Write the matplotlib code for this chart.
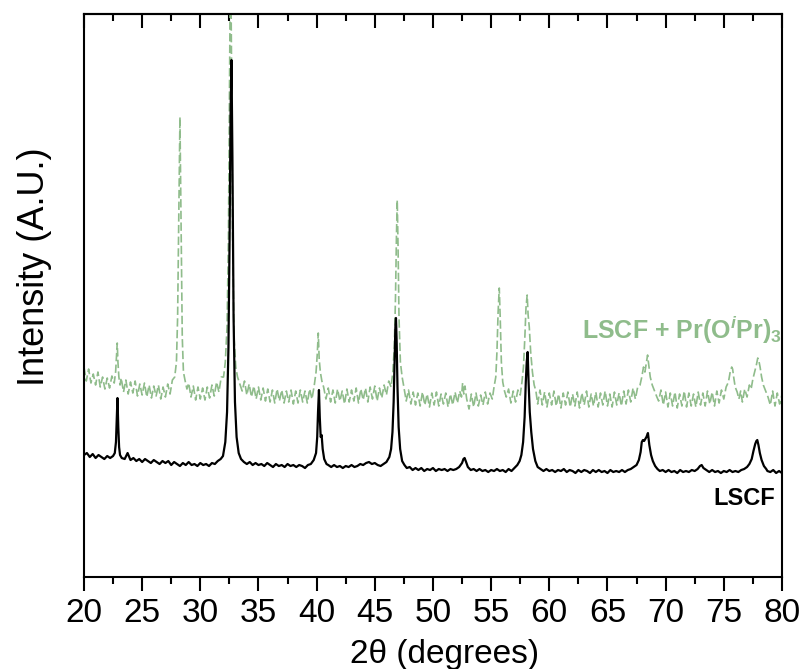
import numpy as np
import matplotlib.pyplot as plt

plt.rcParams['font.family'] = ['Liberation Sans', 'DejaVu Sans']
plt.rcParams['mathtext.fontset'] = 'custom'
plt.rcParams['mathtext.rm'] = 'Liberation Sans:bold'
plt.rcParams['mathtext.bf'] = 'Liberation Sans:bold'
plt.rcParams['mathtext.it'] = 'Liberation Sans:italic:bold'

# (2theta, intensity), arbitrary units
lscf = [
    (20.0, 122), (20.25, 124), (20.5, 120), (20.75, 123), (21.0, 119), (21.25, 122), (21.5, 120), (21.75, 118),
    (22.0, 121), (22.25, 119), (22.5, 121),
    (22.65, 124), (22.75, 135), (22.82, 160), (22.88, 179), (22.95, 150), (23.02, 130), (23.1, 122), (23.25, 119),
    (23.5, 118), (23.75, 124), (24.0, 117), (24.25, 119), (24.5, 116), (24.75, 118), (25.0, 115), (25.25, 118),
    (25.5, 116), (25.75, 114), (26.0, 117), (26.25, 115), (26.5, 113), (26.75, 116), (27.0, 114), (27.25, 116),
    (27.5, 112), (27.75, 115), (28.0, 113), (28.25, 111), (28.5, 114), (28.75, 112), (29.0, 115), (29.25, 112),
    (29.5, 113), (29.75, 111), (30.0, 114), (30.25, 112), (30.5, 113), (30.75, 111), (31.0, 114), (31.25, 113),
    (31.5, 116), (31.75, 118),
    (31.95, 121), (32.15, 135), (32.3, 165), (32.42, 230), (32.52, 340), (32.6, 460), (32.68, 517), (32.76, 420),
    (32.86, 260), (32.98, 175), (33.12, 140), (33.3, 124), (33.5, 118),
    (33.75, 115), (34.0, 113), (34.25, 115), (34.5, 112), (34.75, 114), (35.0, 112), (35.25, 113), (35.5, 111),
    (35.75, 114), (36.0, 112), (36.25, 110), (36.5, 113), (36.75, 111), (37.0, 112), (37.25, 110), (37.5, 113),
    (37.75, 111), (38.0, 112), (38.25, 110), (38.5, 112), (38.75, 111), (39.0, 109), (39.25, 112), (39.5, 113),
    (39.75, 117),
    (39.95, 124), (40.05, 140), (40.12, 165), (40.2, 187), (40.27, 160), (40.35, 140), (40.43, 142), (40.52, 128),
    (40.65, 118), (40.85, 113),
    (41.0, 112), (41.25, 110), (41.5, 112), (41.75, 110), (42.0, 111), (42.25, 109), (42.5, 111), (42.75, 110),
    (43.0, 112), (43.25, 110), (43.5, 111), (43.75, 113), (44.0, 112), (44.25, 114), (44.5, 115), (44.75, 113),
    (45.0, 114), (45.25, 112), (45.5, 111), (45.75, 113), (46.0, 115), (46.25, 120),
    (46.4, 128), (46.52, 145), (46.62, 175), (46.7, 215), (46.77, 250), (46.82, 259), (46.88, 235), (46.95, 190),
    (47.05, 150), (47.18, 128), (47.35, 116), (47.55, 112),
    (47.75, 109), (48.0, 110), (48.25, 107), (48.5, 109), (48.75, 107), (49.0, 109), (49.25, 106), (49.5, 108),
    (49.75, 107), (50.0, 109), (50.25, 106), (50.5, 108), (50.75, 107), (51.0, 108), (51.25, 106), (51.5, 108),
    (51.75, 107), (52.0, 108), (52.25, 110), (52.5, 114),
    (52.62, 118), (52.72, 119), (52.85, 115), (53.0, 110),
    (53.25, 107), (53.5, 108), (53.75, 106), (54.0, 108), (54.25, 106), (54.5, 107), (54.75, 105), (55.0, 107),
    (55.25, 106), (55.5, 108), (55.75, 106), (56.0, 107), (56.25, 105), (56.5, 108), (56.75, 106), (57.0, 109),
    (57.25, 112),
    (57.45, 116), (57.6, 122), (57.75, 135), (57.88, 160), (57.98, 195), (58.06, 215), (58.14, 225), (58.22, 195),
    (58.32, 165), (58.45, 145), (58.6, 128), (58.8, 116), (59.0, 110),
    (59.25, 108), (59.5, 106), (59.75, 108), (60.0, 106), (60.25, 107), (60.5, 105), (60.75, 107), (61.0, 106),
    (61.25, 108), (61.5, 105), (61.75, 107), (62.0, 106), (62.25, 104), (62.5, 107), (62.75, 105), (63.0, 107),
    (63.25, 106), (63.5, 104), (63.75, 107), (64.0, 105), (64.25, 107), (64.5, 105), (64.75, 106), (65.0, 104),
    (65.25, 107), (65.5, 105), (65.75, 106), (66.0, 105), (66.25, 107), (66.5, 105), (66.75, 107), (67.0, 108),
    (67.25, 110), (67.5, 112),
    (67.7, 117), (67.85, 125), (67.95, 135), (68.05, 137), (68.15, 136), (68.25, 138), (68.35, 140), (68.48, 144),
    (68.6, 132), (68.75, 122), (68.9, 116), (69.1, 111), (69.3, 108),
    (69.5, 106), (69.75, 107), (70.0, 105), (70.25, 107), (70.5, 105), (70.75, 106), (71.0, 104), (71.25, 107),
    (71.5, 105), (71.75, 106), (72.0, 105), (72.25, 107), (72.5, 106), (72.75, 108),
    (72.95, 111), (73.1, 112), (73.25, 109),
    (73.5, 107), (73.75, 105), (74.0, 107), (74.25, 105), (74.5, 106), (74.75, 104), (75.0, 106), (75.25, 105),
    (75.5, 107), (75.75, 105), (76.0, 106), (76.25, 105), (76.5, 107), (76.75, 108), (77.0, 110),
    (77.2, 113), (77.4, 118), (77.55, 126), (77.7, 133), (77.8, 136), (77.88, 137), (77.98, 132), (78.1, 124),
    (78.25, 117), (78.45, 111), (78.65, 108),
    (78.75, 106), (79.0, 105), (79.25, 107), (79.5, 104), (79.75, 106), (80.0, 104),
]

lscf_pr = [
    (20.0, 210), (20.2, 196), (20.4, 208), (20.6, 194), (20.8, 203), (21.0, 192), (21.2, 205), (21.4, 190),
    (21.6, 200), (21.8, 188), (22.0, 199), (22.2, 189), (22.4, 201), (22.6, 194),
    (22.72, 205), (22.8, 222), (22.86, 234), (22.92, 215), (23.0, 200), (23.1, 192),
    (23.2, 199), (23.4, 185), (23.6, 197), (23.8, 183), (24.0, 195), (24.2, 184), (24.4, 196), (24.6, 181),
    (24.8, 193), (25.0, 182), (25.2, 194), (25.4, 180), (25.6, 192), (25.8, 179), (26.0, 191), (26.2, 181),
    (26.4, 192), (26.6, 178), (26.8, 190), (27.0, 180), (27.2, 193), (27.4, 183), (27.6, 197),
    (27.8, 200), (27.95, 215), (28.05, 260), (28.15, 360), (28.25, 460), (28.35, 350), (28.45, 240), (28.55, 205),
    (28.7, 196), (28.85, 188),
    (29.0, 194), (29.2, 180), (29.4, 191), (29.6, 177), (29.8, 190), (30.0, 178), (30.2, 189), (30.4, 177),
    (30.6, 190), (30.8, 179), (31.0, 192), (31.2, 181), (31.4, 195), (31.6, 185), (31.8, 200),
    (32.0, 200), (32.15, 215), (32.3, 250), (32.42, 340), (32.52, 500), (32.6, 640), (32.68, 520), (32.78, 340),
    (32.9, 240), (33.05, 210), (33.2, 200), (33.4, 193),
    (33.6, 186), (33.8, 196), (34.0, 182), (34.2, 193), (34.4, 180), (34.6, 191), (34.8, 178), (35.0, 190),
    (35.2, 177), (35.4, 189), (35.6, 176), (35.8, 188), (36.0, 175), (36.2, 187), (36.4, 174), (36.6, 188),
    (36.8, 176), (37.0, 187), (37.2, 174), (37.4, 186), (37.6, 175), (37.8, 187), (38.0, 173), (38.2, 186),
    (38.4, 174), (38.6, 187), (38.8, 175), (39.0, 186), (39.2, 174), (39.4, 188), (39.6, 178), (39.8, 192),
    (39.95, 205), (40.05, 222), (40.14, 244), (40.22, 218), (40.32, 205), (40.45, 196), (40.6, 190),
    (40.8, 178), (41.0, 189), (41.2, 175), (41.4, 187), (41.6, 174), (41.8, 188), (42.0, 176), (42.2, 186),
    (42.4, 173), (42.6, 188), (42.8, 175), (43.0, 187), (43.2, 176), (43.4, 189), (43.6, 174), (43.8, 188),
    (44.0, 177), (44.2, 189), (44.4, 175), (44.6, 190), (44.8, 178), (45.0, 191), (45.2, 176), (45.4, 189),
    (45.6, 179), (45.8, 192), (46.0, 182), (46.2, 196), (46.4, 190),
    (46.55, 205), (46.68, 230), (46.78, 280), (46.86, 340), (46.93, 377), (47.0, 330), (47.08, 260), (47.2, 215),
    (47.35, 200), (47.5, 190),
    (47.7, 176), (47.9, 187), (48.1, 173), (48.3, 185), (48.5, 172), (48.7, 184), (48.9, 171), (49.1, 185),
    (49.3, 172), (49.5, 183), (49.7, 170), (49.9, 184), (50.1, 172), (50.3, 185), (50.5, 171), (50.7, 183),
    (50.9, 173), (51.1, 184), (51.3, 170), (51.5, 183), (51.7, 172), (51.9, 185), (52.1, 174), (52.3, 186),
    (52.45, 180), (52.55, 194), (52.65, 183), (52.75, 191), (52.9, 178),
    (53.1, 168), (53.3, 183), (53.5, 170), (53.7, 184), (53.9, 171), (54.1, 182), (54.3, 172), (54.5, 185),
    (54.7, 173), (54.9, 184), (55.1, 178), (55.25, 190),
    (55.4, 200), (55.5, 225), (55.6, 265), (55.7, 289), (55.78, 260), (55.88, 215), (56.0, 195), (56.15, 186),
    (56.3, 180), (56.5, 188), (56.7, 174), (56.9, 186), (57.1, 175), (57.3, 187), (57.5, 182),
    (57.65, 195), (57.78, 210), (57.9, 240), (58.0, 270), (58.1, 282), (58.18, 262), (58.28, 250), (58.4, 225),
    (58.55, 205), (58.7, 192), (58.85, 186),
    (59.0, 173), (59.2, 187), (59.4, 172), (59.6, 185), (59.8, 170), (60.0, 184), (60.2, 172), (60.4, 186),
    (60.6, 171), (60.8, 183), (61.0, 169), (61.2, 184), (61.4, 172), (61.6, 185), (61.8, 170), (62.0, 183),
    (62.2, 171), (62.4, 185), (62.6, 169), (62.8, 184), (63.0, 172), (63.2, 186), (63.4, 170), (63.6, 183),
    (63.8, 171), (64.0, 185), (64.2, 170), (64.4, 184), (64.6, 172), (64.8, 186), (65.0, 171), (65.2, 183),
    (65.4, 170), (65.6, 185), (65.8, 172), (66.0, 184), (66.2, 171), (66.4, 186), (66.6, 173), (66.8, 187),
    (67.0, 175), (67.2, 189), (67.4, 178), (67.6, 190),
    (67.8, 192), (67.95, 200), (68.1, 210), (68.22, 205), (68.35, 215), (68.45, 222), (68.55, 212), (68.68, 200),
    (68.85, 192), (69.05, 186), (69.25, 180),
    (69.4, 176), (69.6, 187), (69.8, 172), (70.0, 185), (70.2, 170), (70.4, 184), (70.6, 171), (70.8, 185),
    (71.0, 169), (71.2, 183), (71.4, 171), (71.6, 186), (71.8, 170), (72.0, 184), (72.2, 171), (72.4, 183),
    (72.6, 170), (72.8, 185), (73.0, 172), (73.2, 184), (73.4, 171), (73.6, 186), (73.8, 173), (74.0, 185),
    (74.2, 171), (74.4, 186), (74.6, 174), (74.8, 187), (75.0, 178), (75.2, 190),
    (75.4, 195), (75.55, 205), (75.68, 210), (75.76, 208), (75.85, 200), (75.98, 190), (76.15, 185), (76.3, 178),
    (76.45, 186), (76.6, 175), (76.8, 188), (77.0, 180), (77.2, 192), (77.35, 188),
    (77.5, 198), (77.65, 205), (77.8, 212), (77.92, 219), (78.02, 216), (78.12, 210), (78.25, 200), (78.4, 192),
    (78.6, 186), (78.8, 180),
    (79.0, 172), (79.2, 186), (79.4, 171), (79.6, 184), (79.8, 173), (80.0, 182),
]

x_lscf, y_lscf = np.array(lscf).T
x_pr, y_pr = np.array(lscf_pr).T

fig = plt.figure(figsize=(8.02, 6.69), dpi=100)
ax = fig.add_axes([0.1047, 0.1375, 0.8703, 0.8415])

ax.plot(x_pr, y_pr, color='#8fbc8b', lw=1.2, dashes=(5, 2))
ax.plot(x_lscf, y_lscf, color='black', lw=1.6)

ax.set_xlim(20, 80)
ax.set_ylim(0, 563)
ax.set_xticks(np.arange(20, 81, 5))
ax.set_xticks(np.arange(22.5, 80, 5), minor=True)
ax.set_yticks([])
ax.tick_params(axis='x', which='major', direction='out', length=10, width=1.5, labelsize=24, pad=5)
ax.tick_params(axis='x', which='minor', direction='out', length=5, width=1.5)
for s in ax.spines.values():
    s.set_linewidth(1.5)

top = ax.secondary_xaxis('top')
top.set_xticks(np.arange(20, 81, 5))
top.set_xticks(np.arange(22.5, 80, 5), minor=True)
top.tick_params(which='major', direction='in', length=10, width=1.5, labeltop=False)
top.tick_params(which='minor', direction='in', length=5, width=1.5)
top.spines['top'].set_linewidth(1.5)

ax.set_xlabel('2θ (degrees)', fontsize=24)
ax.xaxis.set_label_coords(0.517, -0.110)
ax.xaxis.label.set_va('top')
ax.set_ylabel('Intensity (A.U.)', fontsize=26)
ax.yaxis.set_label_coords(-0.046, 0.552)

ax.text(0.714, 0.439, r'LSCF + Pr(O$^{\mathit{i}}$Pr)$_{\mathbf{3}}$', transform=ax.transAxes,
        color='#8fbc8b', fontsize=18, fontweight='bold', ha='left', va='center')
ax.text(0.9905, 0.140, 'LSCF', transform=ax.transAxes,
        color='black', fontsize=17, fontweight='bold', ha='right', va='center')

fig.savefig('out.png', dpi=100)
